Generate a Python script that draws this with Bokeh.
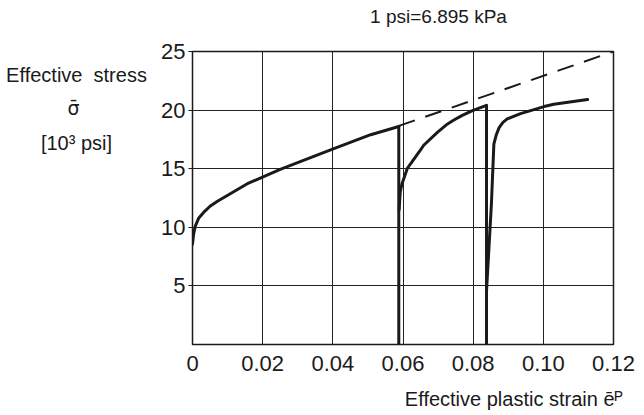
from bokeh.plotting import figure
from bokeh.models import Label, FixedTicker, Range1d
from bokeh.embed import file_html
from bokeh.resources import INLINE

# ---- data -------------------------------------------------------------
x_ticks = [0, 0.02, 0.04, 0.06, 0.08, 0.10, 0.12]
x_tick_labels = ["0", "0.02", "0.04", "0.06", "0.08", "0.10", "0.12"]
y_ticks = [5, 10, 15, 20, 25]

# first loading branch
strain_1 = [0.0, 0.0003, 0.0008, 0.0018, 0.0031, 0.005, 0.007, 0.0155,
            0.025, 0.0307, 0.0401, 0.0508, 0.0588]
stress_1 = [8.56, 9.4, 10.1, 10.8, 11.25, 11.8, 12.2, 13.7,
            14.95, 15.6, 16.7, 17.9, 18.6]
# first unloading
unload_1_strain = [0.0588, 0.0588]
unload_1_stress = [18.6, 0.0]
# second loading branch
strain_2 = [0.0589, 0.0592, 0.0597, 0.0612, 0.0621, 0.065, 0.0659, 0.0698,
            0.0726, 0.0745, 0.0769, 0.0798, 0.0838]
stress_2 = [11.5, 13.0, 13.7, 15.0, 15.4, 16.6, 17.0, 18.1,
            18.8, 19.15, 19.55, 19.95, 20.4]
# second unloading
unload_2_strain = [0.0838, 0.0838]
unload_2_stress = [20.4, 0.0]
# third loading branch
strain_3 = [0.0838, 0.0852, 0.0859, 0.0866, 0.0874, 0.0885, 0.0897, 0.0935,
            0.1002, 0.103, 0.1126]
stress_3 = [4.5, 12.0, 17.1, 17.9, 18.5, 18.95, 19.25, 19.7,
            20.3, 20.5, 20.9]
# extrapolated monotonic curve (dashed)
dash_strain = [0.0588, 0.12]
dash_stress = [18.65, 25.0]

FONT = "Liberation Sans"
INK = "#1a1a1a"

p = figure(width=640, height=413, output_backend="svg", toolbar_location=None,
           x_range=Range1d(0, 0.12), y_range=Range1d(0, 25),
           min_border_left=192, min_border_right=27,
           min_border_top=51, min_border_bottom=69)
p.background_fill_color = "white"
p.border_fill_color = "white"
p.outline_line_color = INK
p.outline_line_width = 1.5
p.outline_line_alpha = 1

# grid
p.xgrid.ticker = FixedTicker(ticks=x_ticks)
p.ygrid.ticker = FixedTicker(ticks=y_ticks)
for g in (p.xgrid, p.ygrid):
    g.grid_line_color = "#222222"
    g.grid_line_width = 1
    g.grid_line_alpha = 1

# axes
p.xaxis.ticker = FixedTicker(ticks=x_ticks)
p.xaxis.major_label_overrides = {t: s for t, s in zip(x_ticks, x_tick_labels)}
p.yaxis.ticker = FixedTicker(ticks=y_ticks)
for ax in (p.xaxis, p.yaxis):
    ax.axis_line_color = INK
    ax.major_label_text_font = FONT
    ax.major_label_text_font_size = "22px"
    ax.major_label_text_color = INK
    ax.minor_tick_line_color = None
    ax.major_tick_in = 0
p.xaxis.major_tick_out = 0
p.xaxis.major_label_standoff = 11
p.yaxis.major_tick_out = 4
p.yaxis.major_tick_line_color = INK
p.yaxis.major_label_standoff = 3

# curves
for xs, ys in ((strain_1, stress_1), (unload_1_strain, unload_1_stress),
               (strain_2, stress_2), (unload_2_strain, unload_2_stress),
               (strain_3, stress_3)):
    p.line(xs, ys, line_color=INK, line_width=3, line_join="round", line_cap="round")
p.line(dash_strain, dash_stress, line_color=INK, line_width=2, line_dash="17 11")

# texts (labels placed in side panels are not clipped to the frame)
def side_label(side, text, x, y, size, align, baseline, line_height=1.2, font=FONT):
    p.add_layout(Label(x=x, y=y, x_units="screen", y_units="screen", text=text,
                       text_font=font, text_font_size=size, text_color=INK,
                       text_align=align, text_baseline=baseline,
                       text_line_height=line_height), side)

side_label("above", "1 psi=6.895 kPa", 246, 35, "19px", "center", "middle")
side_label("below", "Effective plastic strain  \u0113\u1d3e", 436, -3, "20px", "right", "middle")
side_label("left", "Effective\u00a0 stress\n\u00a0\n[10\u00b3 psi]", 59, 281, "20px",
           "center", "top", 1.55)
side_label("left", "\u03c3\u0304", 68, 237, "19px", "center", "alphabetic", font="DejaVu Sans")

open("out.html", "w").write(file_html(p, INLINE))
